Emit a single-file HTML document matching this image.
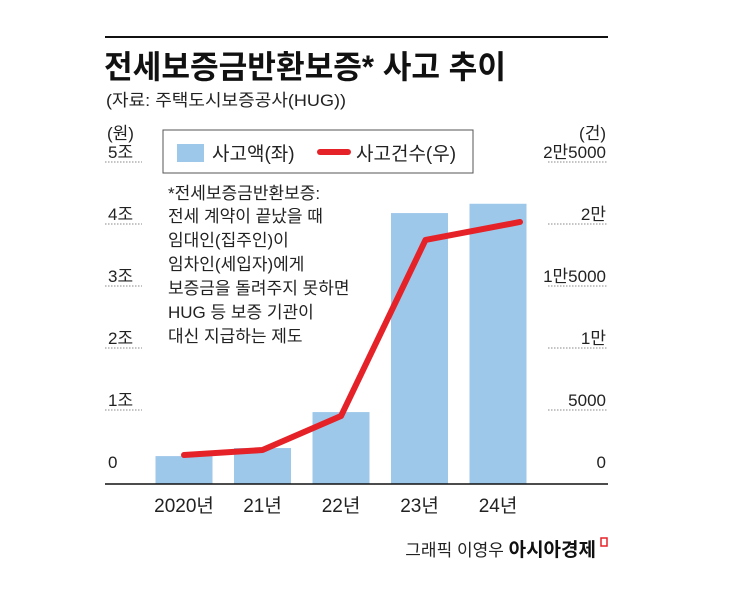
<!DOCTYPE html>
<html><head><meta charset="utf-8"><style>
body{margin:0;background:#fff;}
svg text{font-family:"Liberation Sans","Noto Sans CJK KR",sans-serif;}
</style></head><body>
<svg width="745" height="600" viewBox="0 0 745 600">
<line x1="105" y1="37" x2="608" y2="37" stroke="#111" stroke-width="2"/>
<text x="104" y="78" font-size="32" font-weight="bold" fill="#111" textLength="402" lengthAdjust="spacingAndGlyphs">전세보증금반환보증* 사고 추이</text>
<text x="106" y="106" font-size="17" fill="#222" textLength="240" lengthAdjust="spacingAndGlyphs">(자료: 주택도시보증공사(HUG))</text>
<text x="107" y="139" font-size="17" fill="#222">(원)</text>
<text x="606" y="139" font-size="17" fill="#222" text-anchor="end">(건)</text>
<g>
<rect x="163" y="130" width="310" height="43" fill="#fff" stroke="#555" stroke-width="1"/>
<rect x="177" y="144" width="27" height="18" fill="#9ec8ea"/>
<text x="212" y="160" font-size="19" fill="#222">사고액(좌)</text>
<line x1="320" y1="152" x2="348" y2="152" stroke="#e52228" stroke-width="6" stroke-linecap="round"/>
<text x="356" y="160" font-size="19" fill="#222">사고건수(우)</text>
</g>
<g id="grid"></g>
<g id="bars"></g>
<g id="annot" font-size="17" fill="#222">
<text x="168" y="199">*전세보증금반환보증:</text>
<text x="168" y="222">전세 계약이 끝났을 때</text>
<text x="168" y="246">임대인(집주인)이</text>
<text x="168" y="270">임차인(세입자)에게</text>
<text x="168" y="294">보증금을 돌려주지 못하면</text>
<text x="168" y="318">HUG 등 보증 기관이</text>
<text x="168" y="342">대신 지급하는 제도</text>
</g>
<path id="line" fill="none" stroke="#e52228" stroke-width="6" stroke-linejoin="round" stroke-linecap="round"/>
<line x1="105" y1="484" x2="608" y2="484" stroke="#111" stroke-width="1.5"/>
<g id="xl"></g>
<text x="596" y="556" font-size="17" fill="#222" text-anchor="end">그래픽 이영우 <tspan font-weight="bold" font-size="19" fill="#111">아시아경제</tspan></text>
<rect x="601" y="538" width="6" height="8" fill="none" stroke="#e52228" stroke-width="1.5"/>
</svg>
<script>
const categories=["2020년","21년","22년","23년","24년"];
const amounts=[0.45,0.58,1.16,4.37,4.52];
const counts=[2340,2740,5480,19680,21130];
const leftTicks=[0,1,2,3,4,5];
const leftLabels=["0","1조","2조","3조","4조","5조"];
const rightTicks=[0,5000,10000,15000,20000,25000];
const rightLabels=["0","5000","1만","1만5000","2만","2만5000"];
const NS="http://www.w3.org/2000/svg";
const yL=v=>484-v*62;
const yR=v=>484-v/5000*62;
const xC=i=>184+i*78.5;
const BW=57;
function mk(t,a,p){const e=document.createElementNS(NS,t);for(const k in a)e.setAttribute(k,a[k]);p.appendChild(e);return e;}
const grid=document.getElementById('grid');
leftTicks.forEach((v,i)=>{
 const y=yL(v);
 if(i>0){const l=mk('line',{x1:105,x2:142,y1:y-12,y2:y-12,stroke:'#888','stroke-dasharray':'1.5 1.5'},grid);
 
 }
 const t=mk('text',{x:108,y:y-16,'font-size':17,fill:'#222'},grid);t.textContent=leftLabels[i];
 
 
});
rightTicks.forEach((v,i)=>{
 const y=yR(v);
 if(i>0){const l=mk('line',{x1:548,x2:608,y1:y-12,y2:y-12,stroke:'#888','stroke-dasharray':'1.5 1.5'},grid);
 
 }
 const t=mk('text',{x:606,y:y-16,'font-size':17,fill:'#222','text-anchor':'end'},grid);t.textContent=rightLabels[i];
 
 
});
const bars=document.getElementById('bars');
amounts.forEach((v,i)=>{
 const r=mk('rect',{x:xC(i)-BW/2,y:yL(v),width:BW,height:484-yL(v),fill:'#9ec8ea'},bars);
 
 
});
document.getElementById('line').setAttribute('d',counts.map((v,i)=>(i?'L':'M')+(xC(i)+(i===4?22:i===3?6:0))+' '+yR(v)).join(' '));
const xl=document.getElementById('xl');
categories.forEach((c,i)=>{
 const t=mk('text',{x:xC(i),y:512,'font-size':19,fill:'#222','text-anchor':'middle'},xl);t.textContent=c;
 
 
});
</script>
</body></html>
